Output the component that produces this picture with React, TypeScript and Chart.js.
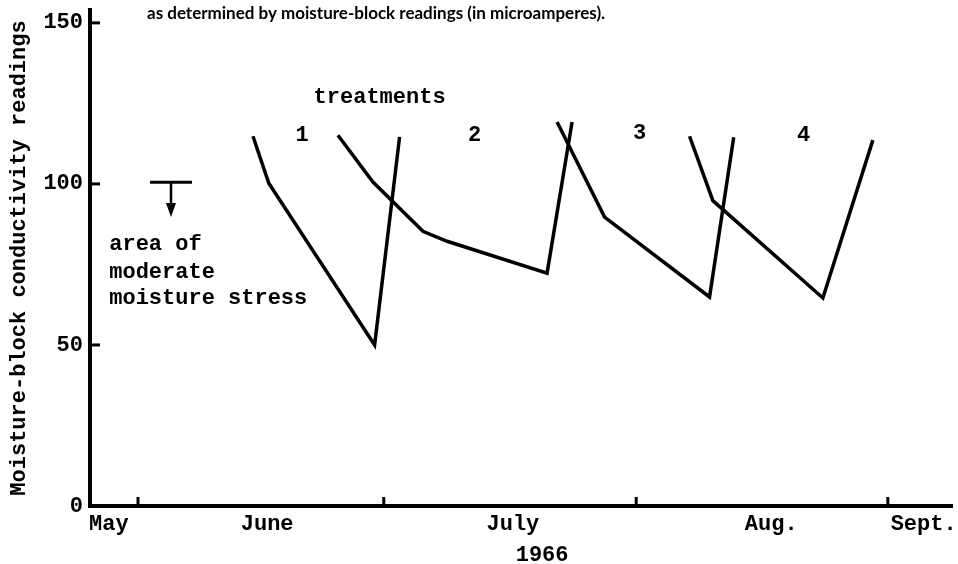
import React, { useEffect, useRef } from "react";
import { Chart, registerables } from "chart.js";

Chart.register(...registerables);

// ---- data (x = day of the season, y = microamperes) ----
const MONTH_LABELS = ["May", "June", "July", "Aug.", "Sept."];
const MONTH_POS = [11.5, 30.5, 60.0, 91.0, 109.3];
const X_TICK_MARKS = [15, 44.5, 74.8, 105];
const Y_TICKS = [0, 50, 100, 150];

const T1_X = [28.8, 30.7, 43.4, 46.4];
const T1_Y = [114.8, 100.2, 50.0, 114.6];
const T2_X = [39.0, 43.2, 49.2, 52.1, 64.1, 67.1];
const T2_Y = [115.1, 100.6, 85.3, 82.2, 72.3, 119.2];
const T3_X = [65.3, 71.0, 83.6, 86.5];
const T3_Y = [119.2, 89.7, 64.9, 114.5];
const T4_X = [81.2, 84.0, 97.2, 103.2];
const T4_Y = [114.8, 94.8, 64.6, 113.6];

const TITLE = "as determined by moisture-block readings (in microamperes).";
const Y_TITLE = "Moisture-block conductivity readings";
const YEAR = "1966";
const YEAR_X = 63.5;
const TREAT_LABEL = "treatments";
const TREAT_LABEL_X = 44.0;
const TREAT_LABEL_Y = 126.8;
const TREAT_NUMS = ["1", "2", "3", "4"];
const TREAT_NUM_X = [34.7, 55.4, 75.2, 94.9];
const TREAT_NUM_Y = [115.2, 115.2, 115.8, 115.2];
const STRESS_LINES = ["area of", "moderate", "moisture stress"];
const STRESS_X = 11.55;
const STRESS_Y = [81.3, 72.6, 64.3];
const ARROW_LEVEL = 100.5;
const ARROW_X = [16.44, 18.96, 21.48];
const ARROW_TIP = 89.7;

const MONO = '"Liberation Mono", "Courier New", monospace';

function pts(xs: number[], ys: number[]) {
  return xs.map((x, i) => ({ x, y: ys[i] }));
}

const annotations = {
  id: "annotations",
  afterDraw(chart: any) {
    const ctx = chart.ctx;
    const xs = chart.scales.x;
    const ys = chart.scales.y;
    ctx.save();
    ctx.strokeStyle = "#000";
    ctx.fillStyle = "#000";
    ctx.lineCap = "butt";

    // inward tick marks
    ctx.lineWidth = 3;
    Y_TICKS.filter((v) => v > 0).forEach((v) => {
      const py = ys.getPixelForValue(v);
      ctx.beginPath();
      ctx.moveTo(xs.left, py);
      ctx.lineTo(xs.left + 10, py);
      ctx.stroke();
    });
    X_TICK_MARKS.forEach((v) => {
      const px = xs.getPixelForValue(v);
      ctx.beginPath();
      ctx.moveTo(px, ys.bottom);
      ctx.lineTo(px, ys.bottom - 9);
      ctx.stroke();
    });

    // arrow (T with arrowhead)
    const ay = ys.getPixelForValue(ARROW_LEVEL);
    const ax0 = xs.getPixelForValue(ARROW_X[0]);
    const axm = xs.getPixelForValue(ARROW_X[1]);
    const ax1 = xs.getPixelForValue(ARROW_X[2]);
    const tip = ys.getPixelForValue(ARROW_TIP);
    ctx.lineWidth = 3;
    ctx.beginPath();
    ctx.moveTo(ax0, ay);
    ctx.lineTo(ax1, ay);
    ctx.stroke();
    ctx.lineWidth = 2.5;
    ctx.beginPath();
    ctx.moveTo(axm, ay);
    ctx.lineTo(axm, tip - 12);
    ctx.stroke();
    ctx.beginPath();
    ctx.moveTo(axm - 5, tip - 14);
    ctx.lineTo(axm + 5, tip - 14);
    ctx.lineTo(axm, tip);
    ctx.closePath();
    ctx.fill();

    // texts
    ctx.font = "bold 22px " + MONO;
    ctx.textBaseline = "middle";
    ctx.textAlign = "center";
    ctx.fillText(TREAT_LABEL, xs.getPixelForValue(TREAT_LABEL_X), ys.getPixelForValue(TREAT_LABEL_Y));
    TREAT_NUMS.forEach((t, i) => {
      ctx.fillText(t, xs.getPixelForValue(TREAT_NUM_X[i]), ys.getPixelForValue(TREAT_NUM_Y[i]));
    });
    ctx.fillText(YEAR, xs.getPixelForValue(YEAR_X), ys.bottom + 49);
    ctx.textAlign = "left";
    STRESS_LINES.forEach((t, i) => {
      ctx.fillText(t, xs.getPixelForValue(STRESS_X), ys.getPixelForValue(STRESS_Y[i]));
    });

    // cut-off caption line at top
    ctx.font = 'bold 17px Lato, "Noto Sans", sans-serif';
    ctx.textBaseline = "alphabetic";
    ctx.textAlign = "left";
    ctx.fillText(TITLE, 147, 19);
    ctx.restore();
  },
};

export default function App() {
  const ref = useRef<HTMLCanvasElement | null>(null);

  useEffect(() => {
    if (!ref.current) return;
    const line = (xs: number[], ys: number[]) => ({
      data: pts(xs, ys),
      showLine: true,
      borderColor: "#000",
      backgroundColor: "#000",
      borderWidth: 3.5,
      pointRadius: 0,
      tension: 0,
      fill: false,
    });
    const chart = new Chart(ref.current, {
      type: "scatter",
      data: {
        datasets: [
          { label: "1", ...line(T1_X, T1_Y) },
          { label: "2", ...line(T2_X, T2_Y) },
          { label: "3", ...line(T3_X, T3_Y) },
          { label: "4", ...line(T4_X, T4_Y) },
        ],
      },
      options: {
        animation: false,
        responsive: false,
        layout: { padding: { top: 10, right: 6, left: 0, bottom: 0 } },
        plugins: {
          legend: { display: false },
          tooltip: { enabled: false },
          title: { display: false },
        },
        scales: {
          x: {
            type: "linear",
            min: 9.24,
            max: 112.7,
            grid: { display: false, drawTicks: false },
            border: { display: true, color: "#000", width: 4 },
            afterBuildTicks: (axis: any) => {
              axis.ticks = MONTH_POS.map((v) => ({ value: v }));
            },
            afterFit: (axis: any) => {
              axis.height = 58;
              axis.paddingLeft = 0;
              axis.paddingRight = 0;
            },
            ticks: {
              autoSkip: false,
              maxRotation: 0,
              minRotation: 0,
              padding: 5,
              color: "#000",
              font: { family: MONO, size: 22, weight: "bold" },
              callback: (v: any) => {
                const i = MONTH_POS.indexOf(Number(v));
                return i >= 0 ? MONTH_LABELS[i] : "";
              },
            },
          },
          y: {
            type: "linear",
            min: 0,
            max: 154,
            grid: { display: false, drawTicks: false },
            border: { display: true, color: "#000", width: 4 },
            afterBuildTicks: (axis: any) => {
              axis.ticks = Y_TICKS.map((v) => ({ value: v }));
            },
            afterFit: (axis: any) => {
              axis.width = 90;
              axis.paddingTop = 0;
              axis.paddingBottom = 0;
            },
            ticks: {
              padding: 7,
              color: "#000",
              font: { family: MONO, size: 22, weight: "bold" },
            },
            title: {
              display: true,
              text: Y_TITLE,
              color: "#000",
              padding: { top: 6, bottom: 0 },
              font: { family: MONO, size: 22, weight: "bold" },
            },
          },
        },
      },
      plugins: [annotations],
    } as any);
    return () => chart.destroy();
  }, []);

  return (
    <div style={{ position: "absolute", left: 0, top: 0, width: 958, height: 564, background: "#fff" }}>
      <canvas ref={ref} width={958} height={564} style={{ display: "block" }} />
    </div>
  );
}
